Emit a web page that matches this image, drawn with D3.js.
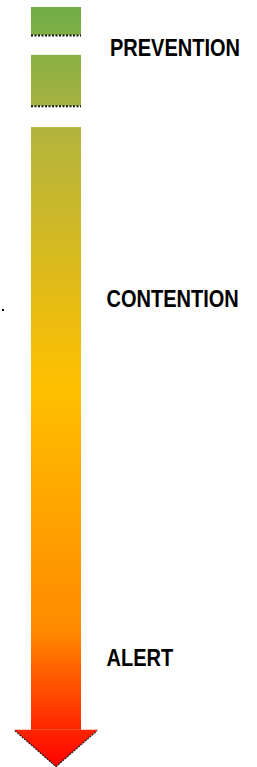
<!DOCTYPE html>
<html>
<head>
<meta charset="utf-8">
<script src="https://cdn.jsdelivr.net/npm/d3@7"></script>
<style>
  body { margin: 0; background: #fff; }
</style>
</head>
<body>
<div id="container"></div>
<script>
/* DATA */
// arrow pieces along the scale (0 = top, 100 = tip)
const pieceStart = [0, 6.3, 15.8];
const pieceEnd = [3.7, 13, 95.1];
const levelNames = ["PREVENTION", "CONTENTION", "ALERT"];
const levelAt = [6.4, 39.5, 86.7];
const gradColors = ["#70AD47", "#B2B43E", "#FFC000", "#FF8A00", "#FF0000"];
const gradStops = [0, 0.16, 0.5, 0.82, 1];

/* CONSTANTS AND GLOBALS */
const width = 257;
const height = 767;

const svg = d3.select("#container")
  .append("svg")
  .attr("width", width)
  .attr("height", height);

const y = d3.scaleLinear().domain([0, 100]).range([7, 767]);
const x = d3.scaleLinear().domain([0, 1]).range([31, 81]);

// gradient across the whole arrow
const grad = svg.append("defs").append("linearGradient")
  .attr("id", "g")
  .attr("gradientUnits", "userSpaceOnUse")
  .attr("x1", 0).attr("x2", 0)
  .attr("y1", y(0)).attr("y2", y(100));

grad.selectAll("stop")
  .data(gradColors)
  .join("stop")
  .attr("offset", (d, i) => gradStops[i])
  .attr("stop-color", d => d);

const pieces = d3.range(pieceStart.length).map(i => ({ s: pieceStart[i], e: pieceEnd[i] }));

svg.selectAll("rect.piece")
  .data(pieces)
  .join("rect")
  .attr("class", "piece")
  .attr("x", x(0))
  .attr("y", d => y(d.s))
  .attr("width", x(1) - x(0))
  .attr("height", d => y(d.e) - y(d.s))
  .attr("fill", "url(#g)");

// broken edges under the first two pieces
svg.selectAll("line.cut")
  .data(pieces.slice(0, 2))
  .join("line")
  .attr("class", "cut")
  .attr("x1", x(0)).attr("x2", x(1))
  .attr("y1", d => y(d.e) + 0.5)
  .attr("y2", d => y(d.e) + 0.5)
  .attr("stroke", "#111")
  .attr("stroke-width", 2)
  .attr("stroke-dasharray", "2,1.5");

// arrow head
const last = pieces[pieces.length - 1];
const hx = d3.scaleLinear().domain([0, 1]).range([14, 98]);
svg.append("path")
  .attr("d", `M${hx(0)},${y(last.e)} L${hx(1)},${y(last.e)} L${hx(0.5)},${y(100)} Z`)
  .attr("fill", "url(#g)");

svg.append("path")
  .attr("d", `M${hx(0) + 1},${y(last.e) + 1} L${hx(0.5)},${y(100) - 0.5} L${hx(1) - 1},${y(last.e) + 1}`)
  .attr("fill", "none")
  .attr("stroke", "#222")
  .attr("stroke-width", 1.3)
  .attr("stroke-dasharray", "2,1");

// labels, squeezed to look like a narrow face
const labels = svg.selectAll("text.level")
  .data(levelNames)
  .join("text")
  .attr("class", "level")
  .attr("x", 0)
  .attr("y", 0)
  .text(d => d)
  .style("font-family", "'Liberation Sans', Arial, sans-serif")
  .style("font-weight", "bold")
  .style("font-size", "23px")
  .style("fill", "#000");

labels.attr("transform", (d, i) =>
  `translate(${i === 0 ? 110 : 106.5},${y(levelAt[i])}) scale(0.87,1)`);

svg.append("rect")
  .attr("x", 2).attr("y", 309)
  .attr("width", 2).attr("height", 2)
  .attr("fill", "#000");
</script>
</body>
</html>
